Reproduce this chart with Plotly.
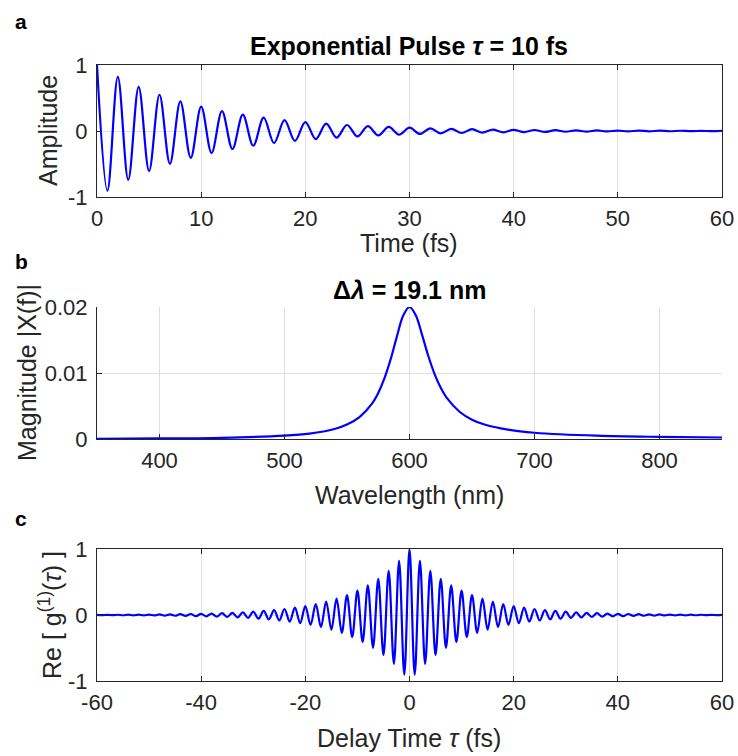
import plotly.graph_objects as go

# ---------------- data ----------------
# (a) exponential pulse: extrema (peaks / troughs) of the oscillation
pulse_time = [0, 1, 2, 3, 4, 5, 6, 7, 8, 9, 10, 11, 12, 13, 14, 15, 16, 17, 18, 19, 20,
              21, 22, 23, 24, 25, 26, 27, 28, 29, 30, 31, 32, 33, 34, 35, 36, 37, 38, 39, 40,
              41, 42, 43, 44, 45, 46, 47, 48, 49, 50, 51, 52, 53, 54, 55, 56, 57, 58, 59, 60]
pulse_amp = [1.000, -0.905, 0.819, -0.741, 0.670, -0.607, 0.549, -0.497, 0.449, -0.407,
             0.368, -0.333, 0.301, -0.273, 0.247, -0.223, 0.202, -0.183, 0.165, -0.150,
             0.135, -0.122, 0.111, -0.100, 0.091, -0.082, 0.074, -0.067, 0.061, -0.055,
             0.050, -0.045, 0.041, -0.037, 0.033, -0.030, 0.027, -0.025, 0.022, -0.020,
             0.018, -0.017, 0.015, -0.014, 0.012, -0.011, 0.010, -0.009, 0.008, -0.007,
             0.007, -0.006, 0.006, -0.005, 0.005, -0.004, 0.004, -0.003, 0.003, -0.003,
             0.002]

# (b) spectrum magnitude vs wavelength
wavelength = [350, 400, 450, 500, 520, 540, 550, 560, 570, 575, 580, 585, 590, 595, 600,
              605, 610, 615, 620, 625, 630, 640, 650, 660, 680, 700, 750, 800, 850]
magnitude = [0.00004, 0.00008, 0.00018, 0.00050, 0.00082, 0.00152, 0.00219, 0.00332,
             0.00536, 0.00698, 0.00921, 0.01213, 0.01559, 0.01870, 0.02000,
             0.01874, 0.01581, 0.01261, 0.00988, 0.00776, 0.00618, 0.00413, 0.00293,
             0.00219, 0.00137, 0.00095, 0.00050, 0.00032, 0.00023]

# (c) first-order coherence: extrema of Re[g1]
delay = [-60, -59, -58, -57, -56, -55, -54, -53, -52, -51, -50, -49, -48, -47, -46, -45,
         -44, -43, -42, -41, -40, -39, -38, -37, -36, -35, -34, -33, -32, -31, -30, -29,
         -28, -27, -26, -25, -24, -23, -22, -21, -20, -19, -18, -17, -16, -15, -14, -13,
         -12, -11, -10, -9, -8, -7, -6, -5, -4, -3, -2, -1, 0, 1, 2, 3, 4, 5, 6, 7, 8, 9,
         10, 11, 12, 13, 14, 15, 16, 17, 18, 19, 20, 21, 22, 23, 24, 25, 26, 27, 28, 29,
         30, 31, 32, 33, 34, 35, 36, 37, 38, 39, 40, 41, 42, 43, 44, 45, 46, 47, 48, 49,
         50, 51, 52, 53, 54, 55, 56, 57, 58, 59, 60]
g1_real = [0.002, -0.003, 0.003, -0.003, 0.004, -0.004, 0.005, -0.005, 0.006, -0.006,
           0.007, -0.007, 0.008, -0.009, 0.010, -0.011, 0.012, -0.014, 0.015, -0.017,
           0.018, -0.020, 0.022, -0.025, 0.027, -0.030, 0.033, -0.037, 0.041, -0.045,
           0.050, -0.055, 0.061, -0.067, 0.074, -0.082, 0.091, -0.100, 0.111, -0.122,
           0.135, -0.150, 0.165, -0.183, 0.202, -0.223, 0.247, -0.273, 0.301, -0.333,
           0.368, -0.407, 0.449, -0.497, 0.549, -0.607, 0.670, -0.741, 0.819, -0.905,
           1.000,
           -0.905, 0.819, -0.741, 0.670, -0.607, 0.549, -0.497, 0.449, -0.407, 0.368,
           -0.333, 0.301, -0.273, 0.247, -0.223, 0.202, -0.183, 0.165, -0.150, 0.135,
           -0.122, 0.111, -0.100, 0.091, -0.082, 0.074, -0.067, 0.061, -0.055, 0.050,
           -0.045, 0.041, -0.037, 0.033, -0.030, 0.027, -0.025, 0.022, -0.020, 0.018,
           -0.017, 0.015, -0.014, 0.012, -0.011, 0.010, -0.009, 0.008, -0.007, 0.007,
           -0.006, 0.006, -0.005, 0.005, -0.004, 0.004, -0.003, 0.003, -0.003, 0.002]

ticks_a_x = [0, 10, 20, 30, 40, 50, 60]
ticks_a_y = [-1, 0, 1]
ticks_a_y_text = ["-1", "0", "1"]
ticks_b_x = [400, 500, 600, 700, 800]
ticks_b_y = [0, 0.01, 0.02]
ticks_b_y_text = ["0", "0.01", "0.02"]
ticks_c_x = [-60, -40, -20, 0, 20, 40, 60]
ticks_c_x_text = ["-60", "-40", "-20", "0", "20", "40", "60"]
ticks_c_y = [-1, 0, 1]
ticks_c_y_text = ["-1", "0", "1"]

# ---------------- styling ----------------
FONT = "Liberation Sans, Arial, Helvetica, sans-serif"
DARK = "#262626"
GRID = "#dfdfdf"
BLUE = "#0000ff"
TICK_SIZE = 22
LABEL_SIZE = 25
TITLE_SIZE = 25

W, H = 738, 756


def py(px):
    return 1 - px / H


def px_x(px):
    return px / W


xdom = [px_x(97), px_x(722)]
dom_a = [py(197), py(65)]
dom_b = [py(439), py(307)]
dom_c = [py(681), py(549)]

line_style = dict(color=BLUE, width=2.2, shape="spline", smoothing=1)

fig = go.Figure()
fig.add_trace(go.Scatter(x=pulse_time, y=pulse_amp, mode="lines", line=line_style,
                         xaxis="x", yaxis="y", showlegend=False, hoverinfo="skip"))
fig.add_trace(go.Scatter(x=wavelength, y=magnitude, mode="lines", line=line_style,
                         xaxis="x2", yaxis="y2", showlegend=False, hoverinfo="skip"))
fig.add_trace(go.Scatter(x=delay, y=g1_real, mode="lines", line=line_style,
                         xaxis="x3", yaxis="y3", showlegend=False, hoverinfo="skip"))


def ax(**kw):
    base = dict(showline=True, linecolor=DARK, linewidth=1, ticks="inside", ticklen=5,
                tickcolor=DARK, tickwidth=1, showgrid=True, gridcolor=GRID, gridwidth=1,
                zeroline=False, tickfont=dict(family=FONT, size=TICK_SIZE, color=DARK),
                fixedrange=True, automargin=False)
    base.update(kw)
    return base


fig.update_layout(
    width=W, height=H,
    margin=dict(l=0, r=0, t=0, b=0, autoexpand=False),
    paper_bgcolor="white", plot_bgcolor="white",
    xaxis=ax(domain=xdom, anchor="y", range=[0, 60], tickvals=ticks_a_x, mirror="ticks",
             ticklabelstandoff=2),
    yaxis=ax(domain=dom_a, anchor="x", range=[-1, 1], tickvals=ticks_a_y,
             ticktext=ticks_a_y_text, mirror="ticks", ticklabelstandoff=4),
    xaxis2=ax(domain=xdom, anchor="y2", range=[350, 850], tickvals=ticks_b_x,
              ticklabelstandoff=2),
    yaxis2=ax(domain=dom_b, anchor="x2", range=[0, 0.02], tickvals=ticks_b_y,
              ticktext=ticks_b_y_text, ticklabelstandoff=4),
    xaxis3=ax(domain=xdom, anchor="y3", range=[-60, 60], tickvals=ticks_c_x,
              ticktext=ticks_c_x_text, mirror="ticks", ticklabelstandoff=2),
    yaxis3=ax(domain=dom_c, anchor="x3", range=[-1, 1], tickvals=ticks_c_y,
              ticktext=ticks_c_y_text, mirror="ticks", ticklabelstandoff=4),
)

ann = []


def add_text(text, xpx, ypx, size, bold=False, angle=0, color=DARK):
    ann.append(dict(text=("<b>%s</b>" % text) if bold else text,
                    x=px_x(xpx), y=py(ypx), xref="paper", yref="paper",
                    xanchor="center", yanchor="middle", showarrow=False,
                    textangle=angle, font=dict(family=FONT, size=size, color=color)))


# panel letters
add_text("a", 21, 22, 21, bold=True, color="black")
add_text("b", 21, 261, 21, bold=True, color="black")
add_text("c", 21, 518, 21, bold=True, color="black")
# titles
add_text("Exponential Pulse <i>τ</i> = 10 fs", 409, 46, TITLE_SIZE, bold=True, color="black")
add_text("Δ<i>λ</i> = 19.1 nm", 409, 290, TITLE_SIZE, bold=True, color="black")
# axis titles
add_text("Time (fs)", 409, 243, LABEL_SIZE)
add_text("Wavelength (nm)", 409, 495, LABEL_SIZE)
add_text("Delay Time <i>τ</i> (fs)", 409, 738, LABEL_SIZE)
add_text("Amplitude", 48, 131, LABEL_SIZE, angle=-90)
add_text("Magnitude |X(f)|", 27, 373, LABEL_SIZE, angle=-90)
add_text("Re [ g<sup>(1)</sup>(<i>τ</i>) ]", 50, 615, LABEL_SIZE, angle=-90)

fig.update_layout(annotations=ann)

fig.write_html("out.html")
